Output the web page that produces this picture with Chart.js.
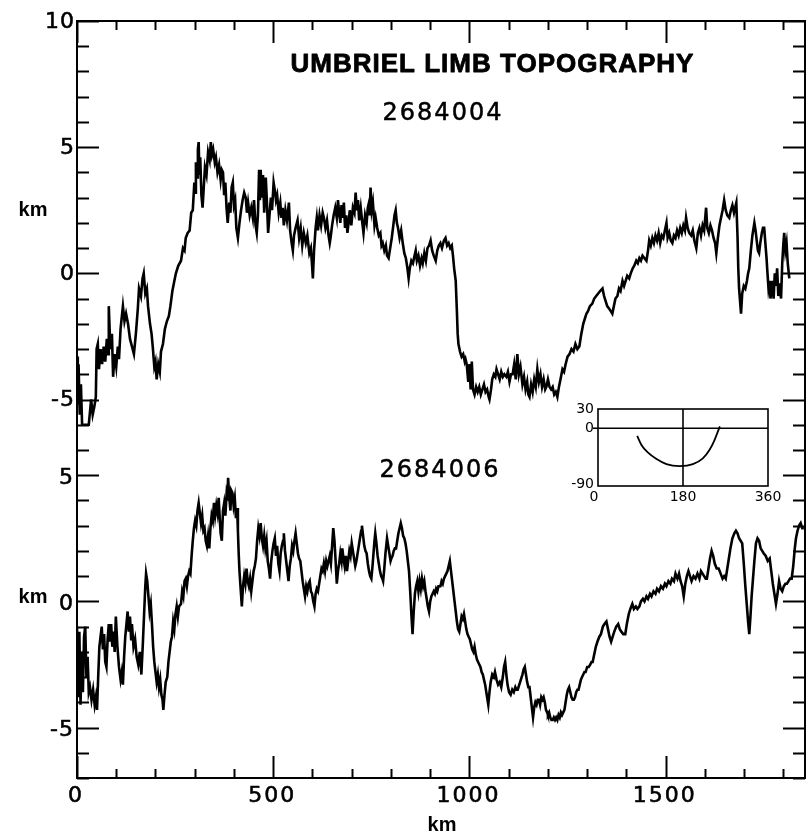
<!DOCTYPE html>
<html>
<head>
<meta charset="utf-8">
<script src="https://cdn.jsdelivr.net/npm/chart.js@4.4.1/dist/chart.umd.min.js"></script>
<style>
  html, body { margin: 0; padding: 0; background: #fff; }
  #wrap { position: relative; width: 809px; height: 835px; overflow: hidden; }
  #main { position: absolute; left: 0; top: 0; }
  #inset { position: absolute; left: 540px; top: 390px; }
</style>
</head>
<body>
<div id="wrap">
  <canvas id="main" width="809" height="835"></canvas>
  <canvas id="inset" width="250" height="125"></canvas>
</div>
<script>
// Limb profile 2684004: [distance along limb (km), height (km)]
const trace2684004 = [
  [0,-3.3],[2,-5.2],[4,-3.6],[7,-5.6],[10,-4.4],[13,-6.0],[30,-6.0],[36,-5.0],[40,-5.6],[44,-5.3],[48,-4.9],
  [50,-3.0],[53,-2.8],[56,-3.8],[60,-3.0],[64,-3.6],[68,-2.9],[72,-3.5],[76,-2.6],[79,-3.2],[81,-1.3],[85,-3.0],
  [89,-2.4],[92,-4.1],[96,-3.2],[100,-3.7],[104,-2.9],[107,-3.4],[111,-2.2],[117,-1.3],[121,-1.9],[125,-1.6],
  [130,-2.0],[135,-2.6],[140,-2.9],[145,-3.2],[150,-2.4],[155,-1.4],[158,-0.6],[163,-0.9],[167,-0.2],[170,0.0],
  [174,-0.8],[178,-0.6],[181,-1.3],[186,-2.0],[190,-2.4],[193,-2.9],[197,-3.7],[200,-3.5],[203,-4.2],[207,-3.6],
  [211,-3.9],[214,-3.1],[219,-2.8],[224,-2.2],[229,-1.9],[234,-1.7],[238,-1.3],[243,-0.7],[248,-0.3],[252,0.0],
  [258,0.3],[265,0.5],[270,1.0],[274,0.9],[277,1.4],[282,1.6],[287,1.7],[291,2.4],[295,2.5],[299,3.6],[301,3.2],
  [303,4.4],[306,3.8],[308,4.9],[310,5.2],[312,3.9],[314,4.6],[317,3.1],[320,2.6],[323,3.4],[326,4.2],[330,3.9],
  [334,4.8],[338,4.5],[341,5.2],[344,4.7],[347,4.9],[351,4.4],[354,4.6],[358,4.0],[362,4.3],[366,3.7],[369,4.1],
  [372,4.0],[375,3.1],[378,3.6],[381,2.6],[384,2.0],[388,2.8],[391,2.4],[394,3.4],[397,3.6],[400,2.7],[403,2.9],
  [406,1.8],[410,1.4],[414,2.0],[418,2.5],[422,2.9],[426,3.2],[430,3.0],[433,2.4],[436,2.8],[440,2.3],[444,2.6],
  [448,2.2],[451,2.9],[455,1.9],[458,1.6],[461,2.3],[464,4.1],[466,2.9],[468,4.1],[471,3.0],[474,3.9],[477,2.4],
  [481,3.8],[484,2.8],[487,1.6],[490,2.2],[494,3.0],[497,2.5],[501,3.6],[504,3.3],[507,2.9],[510,3.1],[514,2.4],
  [518,2.8],[521,2.2],[524,2.6],[527,1.9],[531,2.5],[535,2.1],[540,2.8],[543,1.7],[547,1.2],[550,0.9],[553,1.5],
  [557,1.8],[562,2.1],[566,1.4],[570,1.8],[574,1.1],[578,1.6],[583,1.2],[587,1.5],[592,0.8],[596,1.0],[599,0.3],
  [601,-0.2],[604,0.9],[608,1.8],[611,2.2],[614,1.7],[618,2.3],[622,1.9],[626,2.4],[629,2.2],[633,1.8],[637,2.1],
  [641,1.5],[644,1.2],[646,1.4],[650,1.9],[654,2.3],[658,2.6],[662,2.2],[665,2.9],[668,2.4],[671,2.0],[674,2.7],
  [677,2.2],[680,2.8],[683,1.8],[686,2.3],[689,1.6],[692,2.0],[695,2.5],[699,1.9],[703,2.6],[707,2.4],[710,3.2],
  [713,2.5],[716,2.9],[719,2.1],[723,2.6],[727,2.0],[730,1.6],[734,2.3],[738,2.0],[741,2.6],[744,2.8],[746,2.3],
  [748,3.4],[751,2.5],[754,2.8],[758,1.9],[761,2.2],[765,1.8],[769,1.5],[773,1.6],[776,1.1],[779,1.2],[783,0.9],
  [787,1.1],[790,0.7],[794,0.6],[798,1.0],[802,1.4],[806,1.9],[809,2.3],[812,2.5],[815,2.0],[818,1.8],[822,1.4],
  [826,1.7],[830,1.2],[834,0.8],[838,0.6],[842,0.2],[845,-0.2],[848,0.2],[852,0.5],[856,0.4],[860,0.7],[863,0.9],
  [866,0.5],[870,0.7],[874,0.3],[878,0.6],[881,0.4],[885,0.8],[889,0.5],[893,1.0],[897,1.1],[901,1.3],[905,0.9],
  [909,0.7],[914,0.5],[918,0.9],[922,1.1],[926,1.2],[930,1.0],[935,1.3],[939,1.4],[943,1.1],[947,1.2],[951,1.0],
  [955,1.1],[958,0.7],[961,0.2],[965,-0.3],[968,-1.5],[970,-2.4],[972,-2.8],[976,-3.1],[980,-3.3],[984,-3.2],
  [988,-3.5],[990,-3.4],[993,-3.6],[997,-4.3],[1000,-3.6],[1003,-4.6],[1006,-3.5],[1009,-4.6],[1013,-4.8],
  [1017,-4.5],[1021,-4.7],[1025,-4.5],[1029,-4.8],[1033,-4.6],[1037,-4.4],[1041,-4.7],[1045,-4.6],[1049,-4.9],
  [1051,-5.0],[1055,-4.6],[1058,-4.2],[1062,-4.0],[1066,-4.1],[1069,-3.8],[1073,-4.0],[1077,-4.2],[1081,-3.9],
  [1085,-4.1],[1089,-4.0],[1094,-4.1],[1098,-3.9],[1102,-4.3],[1106,-4.0],[1110,-4.0],[1114,-3.6],[1118,-4.2],
  [1122,-3.2],[1126,-4.0],[1130,-3.7],[1135,-4.4],[1139,-4.1],[1143,-4.6],[1147,-4.3],[1150,-4.8],[1153,-4.9],
  [1157,-4.4],[1161,-4.7],[1165,-4.2],[1169,-4.5],[1173,-3.8],[1177,-4.3],[1181,-4.0],[1185,-4.5],[1189,-4.2],
  [1193,-4.6],[1196,-4.5],[1200,-4.2],[1204,-4.5],[1208,-4.6],[1212,-4.5],[1216,-4.8],[1220,-4.7],[1224,-4.9],
  [1228,-4.5],[1232,-4.2],[1237,-3.8],[1241,-3.9],[1245,-3.6],[1250,-3.3],[1255,-3.2],[1260,-3.0],[1265,-3.1],
  [1270,-2.8],[1275,-3.0],[1280,-2.9],[1285,-2.4],[1290,-2.0],[1294,-1.8],[1298,-1.6],[1302,-1.5],[1307,-1.3],
  [1313,-1.2],[1318,-1.0],[1323,-0.9],[1328,-0.8],[1333,-0.7],[1339,-0.6],[1343,-0.9],[1347,-1.1],[1351,-1.3],
  [1356,-1.4],[1360,-1.5],[1364,-1.6],[1368,-1.3],[1372,-1.0],[1377,-0.9],[1381,-0.6],[1385,-0.7],[1390,-0.3],
  [1394,-0.5],[1398,-0.3],[1402,-0.1],[1407,-0.2],[1411,0.0],[1416,0.2],[1420,0.3],[1425,0.5],[1429,0.4],
  [1433,0.6],[1437,0.5],[1441,0.7],[1446,0.6],[1451,0.5],[1455,0.9],[1458,1.3],[1462,1.1],[1466,1.4],[1470,1.2],
  [1474,1.5],[1478,1.3],[1482,1.6],[1486,1.2],[1490,1.5],[1494,1.4],[1498,1.7],[1502,2.0],[1505,1.4],[1509,1.6],
  [1513,1.3],[1517,1.2],[1521,1.5],[1525,1.4],[1529,1.7],[1533,1.5],[1537,1.8],[1541,1.6],[1545,1.9],[1549,1.7],
  [1552,2.2],[1556,1.8],[1560,1.6],[1565,1.5],[1569,1.7],[1573,1.3],[1578,1.0],[1582,1.6],[1586,1.8],[1590,1.5],
  [1594,1.9],[1598,1.7],[1603,2.6],[1606,1.8],[1610,1.6],[1614,1.9],[1618,1.7],[1622,1.4],[1626,1.2],[1629,0.8],
  [1633,1.4],[1637,1.9],[1641,2.2],[1645,2.5],[1649,2.9],[1653,2.5],[1657,2.3],[1662,2.2],[1666,2.5],[1670,2.7],
  [1674,2.4],[1677,2.6],[1680,2.8],[1683,1.5],[1685,0.2],[1687,-0.6],[1690,-1.2],[1692,-1.6],[1695,-0.8],
  [1699,-0.5],[1703,-0.6],[1707,-0.3],[1710,0.0],[1713,0.2],[1717,0.9],[1721,1.5],[1724,1.8],[1726,2.0],
  [1729,1.7],[1732,1.3],[1735,0.9],[1738,0.8],[1741,1.2],[1745,1.6],[1748,1.8],[1751,1.8],[1754,1.2],[1757,0.6],
  [1759,0.1],[1762,-0.6],[1765,-0.3],[1767,-1.0],[1769,-0.8],[1772,-0.3],[1775,-1.0],[1778,0.0],[1781,-0.5],
  [1784,0.2],[1787,-0.9],[1790,-0.4],[1794,-1.0],[1797,0.4],[1800,1.2],[1802,1.6],[1805,0.9],[1808,1.2],
  [1811,0.4],[1815,-0.2]
];

// Limb profile 2684006: [distance along limb (km), height (km)]
const trace2684006 = [
  [0,-1.0],[3,-3.8],[6,-1.2],[9,-4.1],[12,-2.0],[15,-3.6],[18,-1.4],[21,-1.0],[24,-3.0],[27,-2.2],[30,-3.6],
  [33,-3.4],[37,-3.9],[41,-3.5],[45,-4.1],[48,-3.8],[51,-4.3],[54,-3.0],[57,-1.8],[60,-1.4],[63,-1.0],[66,-1.9],
  [69,-1.3],[72,-2.4],[75,-2.6],[78,-1.5],[81,-0.9],[84,-1.6],[87,-0.9],[90,-1.8],[93,-1.2],[96,-2.0],[99,-0.6],
  [103,-1.8],[107,-2.6],[111,-3.1],[114,-2.8],[117,-3.3],[120,-2.2],[123,-1.4],[126,-0.9],[129,-0.4],[132,-1.2],
  [135,-0.6],[138,-1.5],[140,-0.9],[144,-1.8],[148,-1.5],[152,-2.2],[156,-2.5],[160,-2.0],[164,-2.9],[168,-1.6],
  [171,-0.5],[174,0.6],[176,1.1],[179,0.8],[182,0.2],[185,-0.4],[188,-0.1],[191,-0.9],[194,-1.8],[197,-2.4],
  [200,-2.8],[203,-3.2],[206,-2.9],[209,-3.4],[212,-3.1],[215,-3.7],[218,-3.9],[220,-4.3],[223,-3.7],[226,-3.2],
  [230,-3.0],[233,-2.4],[236,-2.0],[239,-1.6],[242,-1.4],[245,-0.8],[248,-1.1],[251,-0.5],[254,-0.2],[257,-0.6],
  [260,-0.2],[265,-0.1],[268,0.4],[271,0.2],[274,0.8],[277,0.9],[280,0.6],[283,1.0],[286,1.2],[289,1.1],[292,1.8],
  [295,2.4],[298,2.9],[301,3.2],[304,3.0],[307,3.6],[310,3.9],[313,3.5],[316,3.1],[319,3.4],[322,2.8],[325,2.9],
  [328,2.4],[331,2.2],[334,2.6],[337,2.1],[340,2.9],[343,3.4],[346,3.2],[349,3.9],[352,3.4],[355,3.8],[358,3.5],
  [361,4.1],[364,3.2],[366,2.7],[369,2.4],[372,3.6],[375,3.9],[378,3.4],[381,4.2],[383,4.0],[385,4.9],[388,4.1],
  [391,3.6],[393,4.4],[396,4.3],[399,3.8],[402,4.1],[405,3.3],[408,3.7],[410,2.8],[412,1.9],[414,1.2],[417,0.5],
  [420,-0.2],[423,0.6],[426,1.0],[429,0.7],[432,1.3],[435,0.8],[438,0.6],[441,0.9],[444,0.4],[447,0.8],[450,1.2],
  [453,1.4],[456,1.7],[459,2.4],[462,2.9],[465,2.6],[468,3.1],[471,2.5],[474,2.2],[477,2.6],[480,2.1],[483,2.4],
  [486,1.6],[489,1.3],[492,0.9],[495,1.6],[498,2.0],[501,2.3],[504,2.5],[507,1.8],[510,2.2],[513,1.5],[516,1.2],
  [519,1.9],[522,2.2],[525,2.4],[527,2.7],[530,2.0],[533,1.6],[536,1.2],[539,0.8],[542,1.4],[545,1.7],[548,2.2],
  [551,2.0],[554,2.4],[557,2.7],[560,2.3],[563,1.9],[566,1.7],[569,1.6],[572,1.2],[575,0.8],[578,0.5],[581,0.2],
  [584,0.6],[587,0.4],[590,0.7],[593,0.8],[596,0.4],[599,0.3],[602,0.0],[605,-0.2],[608,0.3],[611,0.5],[614,0.4],
  [617,0.7],[620,1.0],[623,1.3],[626,1.2],[629,1.5],[632,1.2],[635,1.6],[638,1.4],[641,1.6],[644,1.8],[647,1.5],
  [650,2.2],[653,2.9],[656,2.4],[659,1.6],[662,0.7],[665,1.2],[668,1.5],[671,1.9],[674,1.6],[676,2.1],[679,1.7],
  [682,1.4],[685,1.8],[688,1.2],[691,1.6],[694,2.0],[697,1.8],[700,2.3],[703,2.0],[706,1.7],[709,1.4],[712,1.6],
  [715,1.9],[718,2.2],[721,2.5],[724,2.8],[726,3.0],[729,2.6],[732,2.2],[735,2.0],[738,1.9],[741,1.5],[744,1.2],
  [747,1.0],[750,0.9],[753,1.4],[756,2.0],[758,2.4],[760,2.7],[763,2.3],[766,1.8],[769,1.5],[772,1.2],[775,1.0],
  [778,0.9],[780,0.8],[783,1.3],[786,1.9],[788,2.2],[790,2.5],[793,2.2],[796,1.9],[799,1.6],[801,1.7],[804,1.8],
  [807,2.0],[810,2.1],[813,2.1],[816,2.4],[819,2.7],[822,2.9],[825,3.1],[828,2.9],[831,2.6],[834,2.5],[837,2.3],
  [840,2.0],[843,1.6],[846,1.2],[849,0.4],[852,-0.5],[855,-1.3],[858,-0.4],[861,0.3],[864,0.6],[867,0.8],[870,0.4],
  [873,0.8],[876,0.5],[879,0.9],[882,0.6],[885,0.8],[888,0.4],[891,0.1],[894,-0.2],[897,-0.4],[900,0.0],[903,0.2],
  [906,0.3],[909,0.4],[912,0.3],[915,0.5],[918,0.4],[921,0.6],[924,0.6],[926,0.6],[929,0.8],[932,0.7],[935,0.9],
  [938,1.0],[941,1.1],[944,1.2],[947,1.4],[950,1.6],[953,1.2],[956,0.8],[959,0.4],[962,0.0],[965,-0.4],[968,-0.8],
  [971,-1.1],[974,-1.2],[977,-0.9],[980,-0.6],[983,-0.7],[986,-0.5],[989,-0.8],[992,-1.1],[995,-1.3],[998,-1.4],
  [1001,-1.5],[1004,-1.7],[1007,-1.9],[1010,-2.0],[1013,-1.8],[1016,-2.1],[1019,-2.3],[1022,-2.4],[1025,-2.5],
  [1028,-2.6],[1031,-2.8],[1034,-2.9],[1037,-3.1],[1040,-3.3],[1043,-3.6],[1046,-3.9],[1048,-4.1],[1051,-3.6],
  [1054,-3.2],[1058,-2.9],[1062,-3.0],[1065,-2.8],[1069,-3.1],[1073,-3.3],[1077,-3.2],[1081,-3.4],[1085,-3.0],
  [1088,-2.6],[1091,-2.4],[1094,-2.9],[1097,-3.3],[1101,-3.6],[1105,-3.7],[1109,-3.5],[1113,-3.6],[1117,-3.4],
  [1120,-3.5],[1123,-3.5],[1127,-3.3],[1131,-3.1],[1135,-2.9],[1138,-2.7],[1141,-2.6],[1144,-2.9],[1147,-3.2],
  [1150,-3.4],[1153,-3.4],[1156,-3.8],[1159,-4.2],[1162,-4.6],[1165,-4.2],[1168,-4.0],[1171,-4.1],[1174,-3.9],
  [1177,-3.9],[1180,-4.1],[1183,-3.8],[1186,-3.9],[1189,-3.8],[1192,-4.0],[1195,-4.3],[1198,-4.4],[1200,-4.5],
  [1203,-4.4],[1206,-4.6],[1209,-4.7],[1212,-4.7],[1215,-4.6],[1218,-4.7],[1221,-4.6],[1224,-4.7],[1227,-4.5],
  [1230,-4.6],[1233,-4.4],[1236,-4.5],[1239,-4.4],[1242,-4.3],[1245,-4.0],[1248,-3.7],[1251,-3.5],[1254,-3.4],
  [1257,-3.6],[1260,-3.8],[1263,-3.9],[1266,-3.9],[1269,-3.8],[1272,-3.6],[1275,-3.5],[1278,-3.5],[1281,-3.3],
  [1284,-3.1],[1287,-3.0],[1290,-2.9],[1293,-2.8],[1296,-2.8],[1300,-2.6],[1304,-2.6],[1308,-2.5],[1311,-2.4],
  [1314,-2.4],[1318,-2.1],[1322,-1.8],[1326,-1.6],[1331,-1.4],[1335,-1.3],[1340,-1.0],[1344,-0.9],[1349,-0.8],
  [1353,-1.1],[1357,-1.4],[1361,-1.6],[1365,-1.4],[1369,-1.2],[1374,-1.0],[1379,-0.9],[1383,-1.1],[1387,-1.2],
  [1392,-1.3],[1397,-1.3],[1401,-0.9],[1406,-0.5],[1410,-0.3],[1415,-0.1],[1419,-0.3],[1424,-0.2],[1428,-0.3],
  [1433,-0.2],[1437,0.0],[1442,0.1],[1446,0.0],[1451,0.2],[1455,0.1],[1460,0.3],[1464,0.2],[1469,0.4],[1474,0.3],
  [1478,0.5],[1483,0.4],[1488,0.6],[1493,0.5],[1498,0.7],[1502,0.6],[1507,0.8],[1512,0.7],[1516,0.9],[1521,0.8],
  [1525,1.1],[1530,0.9],[1534,1.1],[1538,0.8],[1542,0.6],[1546,0.2],[1550,0.7],[1554,1.0],[1558,1.2],[1562,1.0],
  [1566,0.8],[1571,1.0],[1576,0.9],[1581,1.1],[1586,0.9],[1590,1.2],[1594,1.1],[1598,1.0],[1602,0.9],[1605,0.9],
  [1609,1.3],[1613,1.7],[1617,2.0],[1621,1.8],[1625,1.5],[1630,1.3],[1635,1.3],[1640,1.1],[1645,0.9],[1649,1.0],
  [1653,0.9],[1657,1.3],[1661,1.7],[1665,2.1],[1670,2.5],[1675,2.7],[1679,2.8],[1683,2.7],[1687,2.5],[1691,2.4],
  [1695,2.3],[1699,1.5],[1703,0.6],[1707,-0.2],[1710,-0.8],[1713,-1.3],[1716,-0.6],[1719,0.2],[1722,0.8],
  [1726,1.6],[1730,2.3],[1734,2.5],[1738,2.4],[1742,2.1],[1746,2.0],[1750,1.9],[1755,1.8],[1760,1.6],[1765,1.7],
  [1769,1.2],[1773,0.7],[1777,0.3],[1781,-0.1],[1785,0.3],[1789,0.8],[1793,0.5],[1797,0.4],[1801,0.6],[1805,0.7],
  [1809,0.7],[1813,0.8],[1817,0.9],[1821,0.9],[1825,1.4],[1829,2.1],[1832,2.5],[1836,2.8],[1840,3.0],[1844,3.1],
  [1848,2.9],[1852,2.9]
];

// Inset: latitude (deg) of the limb track against longitude (deg)
const insetLongitude = [83, 92, 106, 124, 145, 173, 201, 222, 236, 247, 258];
const insetLatitude  = [-12, -26, -38, -48, -56, -59, -56, -47, -34, -18, 3];

// Axis extents and tick labels
const X_MAX = 1855;                 // km along the limb
const Y_MIN = -20, Y_MAX = 10;      // shared height axis (km)
const LOWER_SHIFT = -13;            // second profile is stacked 13 km below the first
const xTickLabels = [0, 500, 1000, 1500];
const upperYLabels = [10, 5, 0, -5];
const lowerYLabels = [5, 0, -5];
const insetXLabels = [0, 180, 360];
const insetYLabels = [30, 0, -90];

const TITLE = 'UMBRIEL LIMB TOPOGRAPHY';
const UPPER_NAME = '2684004';
const LOWER_NAME = '2684006';

function drawText(ctx, str, x, y, font, align, spacing, weight) {
  ctx.font = font;
  ctx.textAlign = align || 'center';
  ctx.textBaseline = 'middle';
  ctx.letterSpacing = (spacing || 0) + 'px';
  let dx = 0;
  if (spacing && ctx.textAlign === 'center') dx = spacing / 2;
  if (spacing && ctx.textAlign === 'right') dx = spacing;
  ctx.fillText(str, x + dx, y);
  if (weight) {                      // thicken glyph strokes slightly
    ctx.lineWidth = weight;
    ctx.lineJoin = 'round';
    ctx.strokeText(str, x + dx, y);
  }
  ctx.letterSpacing = '0px';
}

function line(ctx, x1, y1, x2, y2) {
  ctx.beginPath(); ctx.moveTo(x1, y1); ctx.lineTo(x2, y2); ctx.stroke();
}

// Frame with inward ticks on all four sides, tick labels and captions
const frameAndLabels = {
  id: 'frameAndLabels',
  afterDatasetsDraw(chart) {
    const { ctx, chartArea: a, scales: { x, y } } = chart;
    ctx.save();
    ctx.strokeStyle = '#000';
    ctx.fillStyle = '#000';
    ctx.lineCap = 'butt';
    ctx.lineWidth = 2;
    ctx.strokeRect(a.left, a.top, a.right - a.left, a.bottom - a.top);

    // distance ticks every 100 km, long ones every 500 km
    for (let v = 0; v <= X_MAX; v += 100) {
      const px = Math.round(x.getPixelForValue(v)) + 0.5;
      const len = v % 500 === 0 ? 22 : 9;
      line(ctx, px, a.bottom, px, a.bottom - len);
      line(ctx, px, a.top, px, a.top + len);
    }

    // height ticks every 1 km, long ones at the labelled values
    const major = new Set([...upperYLabels, ...lowerYLabels.map(v => v + LOWER_SHIFT)]);
    for (let v = Y_MIN; v <= Y_MAX; v++) {
      const py = Math.round(y.getPixelForValue(v)) + 0.5;
      const len = major.has(v) ? 22 : 12;
      line(ctx, a.left, py, a.left + len, py);
      line(ctx, a.right, py, a.right - len, py);
    }

    const tickFont = '22px "DejaVu Sans"';
    upperYLabels.forEach(v => {
      const label = v < 0 ? '-' + Math.abs(v) : String(v);
      drawText(ctx, label, a.left - 3, y.getPixelForValue(v) + 1, tickFont, 'right', 1, 0.6);
    });
    lowerYLabels.forEach(v => {
      const label = v < 0 ? '-' + Math.abs(v) : String(v);
      drawText(ctx, label, a.left - 4, y.getPixelForValue(v + LOWER_SHIFT) + 3, tickFont, 'right', 1, 0.6);
    });
    xTickLabels.forEach(v => {
      drawText(ctx, String(v), x.getPixelForValue(v) - 2, a.bottom + 18, tickFont, 'center', 2, 0.6);
    });

    const unitFont = 'bold 20px "Liberation Sans"';
    drawText(ctx, 'km', 33, y.getPixelForValue(2.5), unitFont, 'center');
    drawText(ctx, 'km', 33, y.getPixelForValue(LOWER_SHIFT + 0.15), unitFont, 'center');
    drawText(ctx, 'km', (a.left + a.right) / 2 + 1, a.bottom + 47, unitFont, 'center');

    drawText(ctx, TITLE, 492, 65, 'bold 26px "Liberation Sans"', 'center', 1, 0.8);
    drawText(ctx, UPPER_NAME, 442, 114, '24px "DejaVu Sans"', 'center', 2, 0.5);
    drawText(ctx, LOWER_NAME, 439, 471, '24px "DejaVu Sans"', 'center', 2, 0.5);
    ctx.restore();
  }
};

new Chart(document.getElementById('main'), {
  type: 'line',
  data: {
    datasets: [
      {
        label: UPPER_NAME,
        data: trace2684004.map(([km, h]) => ({ x: km, y: h })),
        borderColor: '#000', borderWidth: 2.6, pointRadius: 0, tension: 0
      },
      {
        label: LOWER_NAME,
        data: trace2684006.map(([km, h]) => ({ x: km, y: h + LOWER_SHIFT })),
        borderColor: '#000', borderWidth: 2.6, pointRadius: 0, tension: 0
      }
    ]
  },
  options: {
    responsive: false,
    animation: false,
    devicePixelRatio: 1,
    layout: { padding: { left: 77, right: 4, top: 21, bottom: 57 } },
    plugins: { legend: { display: false }, tooltip: { enabled: false } },
    scales: {
      x: { type: 'linear', min: 0, max: X_MAX, display: false },
      y: { type: 'linear', min: Y_MIN, max: Y_MAX, display: false }
    }
  },
  plugins: [frameAndLabels]
});

// Inset: box and labels of the small latitude/longitude panel
const insetFrame = {
  id: 'insetFrame',
  afterDatasetsDraw(chart) {
    const { ctx, chartArea: a, scales: { x, y } } = chart;
    ctx.save();
    ctx.strokeStyle = '#000';
    ctx.fillStyle = '#000';
    ctx.lineWidth = 1.6;
    ctx.strokeRect(a.left, a.top, a.right - a.left, a.bottom - a.top);
    // zero-latitude line starts just left of the box
    const y0 = y.getPixelForValue(0);
    line(ctx, a.left - 5, y0, a.left, y0);
    const f = '14px "DejaVu Sans"';
    insetYLabels.forEach(v => {
      drawText(ctx, v < 0 ? '-' + Math.abs(v) : String(v), a.left - 4, y.getPixelForValue(v) - (v === -90 ? 2 : 0), f, 'right');
    });
    insetXLabels.forEach(v => {
      drawText(ctx, String(v), x.getPixelForValue(v) - (v === 0 ? 4 : 0), a.bottom + 11, f, 'center');
    });
    ctx.restore();
  }
};

new Chart(document.getElementById('inset'), {
  type: 'line',
  data: {
    datasets: [
      {
        data: insetLongitude.map((lon, i) => ({ x: lon, y: insetLatitude[i] })),
        borderColor: '#000', borderWidth: 1.8, pointRadius: 0, tension: 0.4, cubicInterpolationMode: 'monotone'
      },
      {
        data: [{ x: 0, y: 0 }, { x: 360, y: 0 }],
        borderColor: '#000', borderWidth: 1.6, pointRadius: 0
      },
      {
        data: [{ x: 180, y: -90 }, { x: 180, y: 30 }],
        borderColor: '#000', borderWidth: 1.6, pointRadius: 0
      }
    ]
  },
  options: {
    responsive: false,
    animation: false,
    devicePixelRatio: 1,
    layout: { padding: { left: 58, right: 22, top: 19, bottom: 29 } },
    plugins: { legend: { display: false }, tooltip: { enabled: false } },
    scales: {
      x: { type: 'linear', min: 0, max: 360, display: false },
      y: { type: 'linear', min: -90, max: 30, display: false }
    }
  },
  plugins: [insetFrame]
});
</script>
</body>
</html>
